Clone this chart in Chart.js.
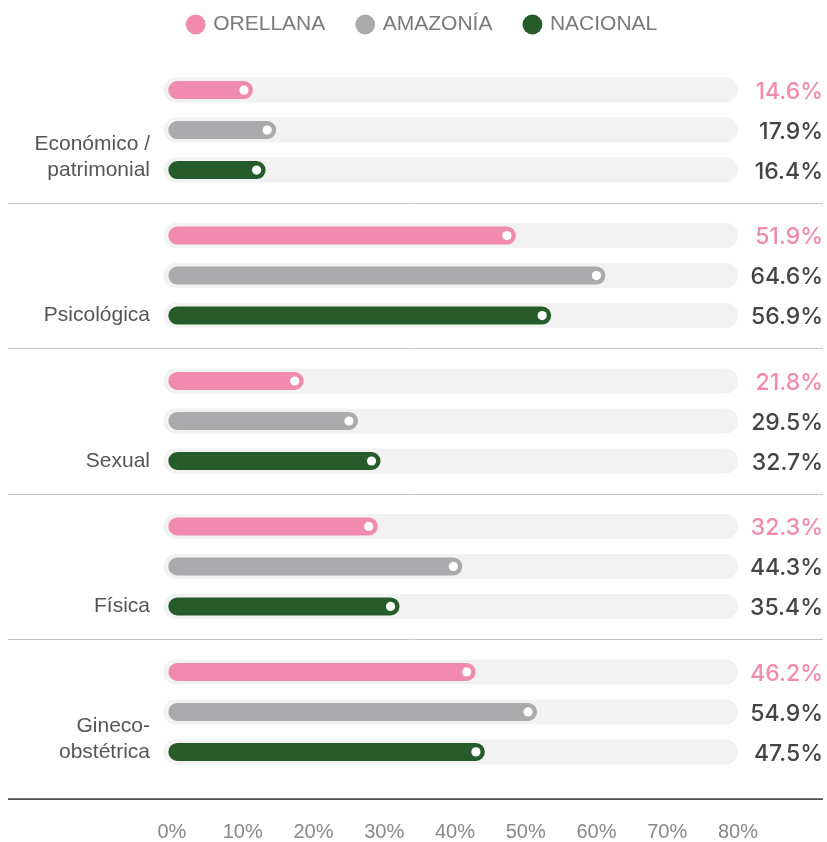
<!DOCTYPE html>
<html>
<head>
<meta charset="utf-8">
<script src="https://cdn.jsdelivr.net/npm/chart.js@4.4.1/dist/chart.umd.min.js"></script>
<style>
  html, body { margin: 0; padding: 0; background: #fff; }
</style>
</head>
<body>
<canvas id="chart" width="827" height="842"></canvas>
<script>
// datos
const categorias = [['Económico /', 'patrimonial'], ['', 'Psicológica'], ['', 'Sexual'], ['', 'Física'], ['Gineco-', 'obstétrica']];
const series = ['ORELLANA', 'AMAZONÍA', 'NACIONAL'];
const orellana = [14.6, 51.9, 21.8, 32.3, 46.2];
const amazonia = [17.9, 64.6, 29.5, 44.3, 54.9];
const nacional = [16.4, 56.9, 32.7, 35.4, 47.5];
const ticksX = [0, 10, 20, 30, 40, 50, 60, 70, 80];

const colores = ['#f08aae', '#aaaaac', '#265c2a'];
const colorTexto = ['#f08aae', '#444444', '#444444'];

// fondo gris de cada barra
const pistas = {
  id: 'pistas',
  beforeDatasetsDraw(chart) {
    const ctx = chart.ctx;
    const right = chart.chartArea.right;
    ctx.save();
    ctx.fillStyle = '#f2f2f2';
    chart.data.datasets.forEach((ds, i) => {
      chart.getDatasetMeta(i).data.forEach(el => {
        const p = el.getProps(['y', 'base', 'height'], true);
        const h = p.height + 7;
        const x0 = p.base - 5;
        const r = h / 2;
        ctx.beginPath();
        ctx.moveTo(x0 + r, p.y - r);
        ctx.lineTo(right - r, p.y - r);
        ctx.arc(right - r, p.y, r, -Math.PI / 2, Math.PI / 2);
        ctx.lineTo(x0 + r, p.y + r);
        ctx.arc(x0 + r, p.y, r, Math.PI / 2, Math.PI * 1.5);
        ctx.closePath();
        ctx.fill();
      });
    });
    ctx.restore();
  }
};

// punto blanco y etiqueta de valor
const etiquetas = {
  id: 'etiquetas',
  afterDatasetsDraw(chart) {
    const ctx = chart.ctx;
    ctx.save();
    ctx.font = '500 23px Inter, "Open Sans", sans-serif';
    ctx.textAlign = 'right';
    ctx.textBaseline = 'middle';
    chart.data.datasets.forEach((ds, i) => {
      chart.getDatasetMeta(i).data.forEach((el, j) => {
        const p = el.getProps(['x', 'y'], true);
        ctx.fillStyle = '#ffffff';
        ctx.beginPath();
        ctx.arc(p.x - 9, p.y, 4.6, 0, Math.PI * 2);
        ctx.fill();
        ctx.fillStyle = colorTexto[i];
        ctx.fillText(ds.data[j].toFixed(1) + '%', 823, p.y + 2);
      });
    });
    ctx.restore();
  }
};

// lineas separadoras entre grupos
const separadores = {
  id: 'separadores',
  afterDraw(chart) {
    const ctx = chart.ctx;
    const y = chart.scales.y;
    ctx.save();
    ctx.strokeStyle = '#c4c4c4';
    ctx.lineWidth = 1;
    for (let i = 0; i < categorias.length - 1; i++) {
      const yy = Math.round((y.getPixelForTick(i) + y.getPixelForTick(i + 1)) / 2) + 0.5;
      ctx.beginPath();
      ctx.moveTo(8, yy);
      ctx.lineTo(823, yy);
      ctx.stroke();
    }
    ctx.strokeStyle = '#505050';
    ctx.lineWidth = 1.6;
    const yb = chart.chartArea.bottom + 14.5;
    ctx.beginPath();
    ctx.moveTo(8, yb);
    ctx.lineTo(823, yb);
    ctx.stroke();
    ctx.restore();
  }
};

// alto fijo y posicion de la leyenda
const leyenda = {
  id: 'leyenda',
  beforeInit(chart) {
    const fit = chart.legend.fit;
    chart.legend.fit = function () {
      fit.call(this);
      this.height = 57.4;
    };
  },
  afterLayout(chart) {
    const lg = chart.legend;
    lg.top -= 19;
    lg.bottom -= 19;
    lg.left += 54;
    lg.right += 54;
  }
};

const datasets = [orellana, amazonia, nacional].map((d, i) => ({
  label: series[i],
  data: d,
  backgroundColor: colores[i],
  borderRadius: 20,
  borderSkipped: false,
  base: 2.6,
  xAxisID: 'x',
  categoryPercentage: 0.825,
  barPercentage: 0.45
}));

new Chart(document.getElementById('chart'), {
  type: 'bar',
  data: { labels: categorias, datasets },
  options: {
    indexAxis: 'y',
    responsive: false,
    animation: false,
    layout: { padding: { left: 0, right: 89, top: 0, bottom: 0 } },
    plugins: {
      tooltip: { enabled: false },
      legend: {
        position: 'top',
        labels: {
          usePointStyle: true,
          pointStyle: 'circle',
          boxWidth: 14,
          boxHeight: 14,
          padding: 33,
          color: '#7a7a7a',
          font: { family: '"Liberation Sans", Arial, sans-serif', size: 21 }
        }
      }
    },
    scales: {
      y: {
        grid: { display: false, drawTicks: false },
        border: { display: false },
        afterFit: s => { s.width = 150; },
        ticks: {
          color: '#555555',
          padding: 0,
          labelOffset: 27,
          font: { family: '"Liberation Sans", Arial, sans-serif', size: 21, lineHeight: 26 / 21 }
        }
      },
      x: {
        display: false,
        min: 0,
        max: 83.4
      },
      x2: {
        position: 'bottom',
        min: -3.1,
        max: 80,
        grid: { display: false, drawTicks: false },
        border: { display: false },
        afterBuildTicks: s => { s.ticks = ticksX.map(v => ({ value: v })); },
        afterFit: s => { s.height = 57.4; },
        ticks: {
          color: '#888888',
          padding: 36,
          maxRotation: 0,
          callback: v => v + '%',
          font: { family: '"Liberation Sans", Arial, sans-serif', size: 20 }
        }
      }
    }
  },
  plugins: [pistas, etiquetas, separadores, leyenda]
});
</script>
</body>
</html>
